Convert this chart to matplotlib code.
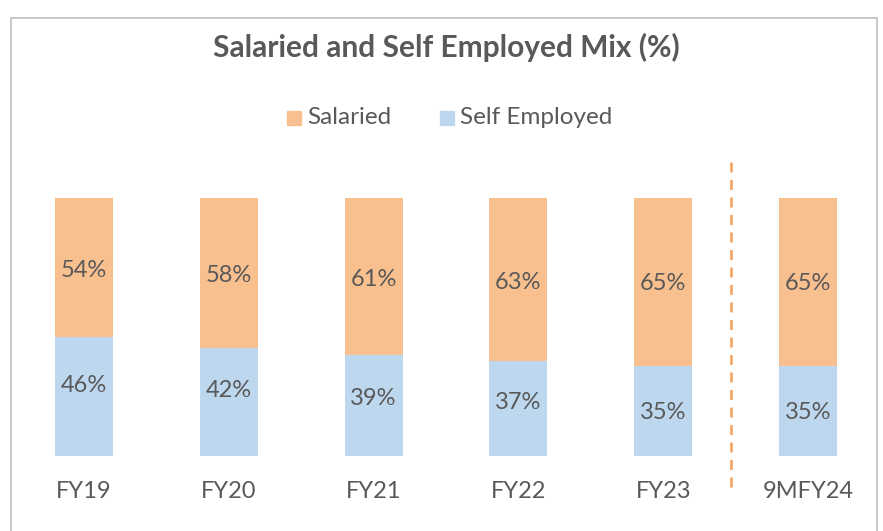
import numpy as np
import matplotlib.pyplot as plt
from matplotlib.patches import Rectangle

# Data
categories = ['FY19', 'FY20', 'FY21', 'FY22', 'FY23', '9MFY24']
salaried = [54, 58, 61, 63, 65, 65]
self_employed = [46, 42, 39, 37, 35, 35]

# label nudges in pixels (positive = up), as placed in the source chart
se_nudge = [11, 11, 7.5, 6, -2, -2]
sa_nudge = [-2.5, -2.5, -2.5, -3, -2, -2]

ORANGE = '#F9C08F'
BLUE = '#BDD7EE'
TEXT = '#595959'

plt.rcParams['font.family'] = ['Lato', 'DejaVu Sans']

W, H = 883, 531
fig = plt.figure(figsize=(W / 100, H / 100), dpi=100)

# chart border (bottom runs off the image)
fig.patches.append(Rectangle((11 / W, -0.05), 866 / W, 1.05 - 18 / H, transform=fig.transFigure,
                             fill=False, edgecolor='#BFBFBF', linewidth=1.2))

# axes placed so bars land where the reference has them
left, right = 11.5, 880.5
bottom, top = 456, 198
ax = fig.add_axes([left / W, 1 - bottom / H, (right - left) / W, (bottom - top) / H])

x = np.arange(len(categories))
se = np.array(self_employed) / 100
sa = np.array(salaried) / 100
ax.bar(x, se, width=0.4, color=BLUE)
ax.bar(x, sa, bottom=se, width=0.4, color=ORANGE)

for i in range(len(categories)):
    ax.annotate(f'{self_employed[i]}%', (x[i], se[i] / 2), xytext=(0, se_nudge[i] * 0.72),
                textcoords='offset points', ha='center', va='center', fontsize=17, color=TEXT)
    ax.annotate(f'{salaried[i]}%', (x[i], se[i] + sa[i] / 2), xytext=(0, sa_nudge[i] * 0.72),
                textcoords='offset points', ha='center', va='center', fontsize=17, color=TEXT)

# separator before the 9M column
ax.plot([4.47, 4.47], [-0.12, 1.16], color='#F4A05A', linestyle=(0, (4, 3)),
        linewidth=1.8, clip_on=False)

ax.set_xlim(-0.5, len(categories) - 0.5)
ax.set_ylim(0, 1)
ax.set_xticks(x)
ax.set_xticklabels(categories, fontsize=17, color=TEXT)
ax.tick_params(axis='x', length=0, pad=18)
ax.set_yticks([])
for s in ax.spines.values():
    s.set_visible(False)

fig.text(446 / W, 1 - 47 / H, 'Salaried and Self Employed Mix (%)', ha='center', va='center',
         fontsize=21.5, fontweight='bold', color=TEXT)

# legend
fig.patches.append(Rectangle((287 / W, 1 - 125 / H), 14 / W, 14 / H, transform=fig.transFigure,
                             color=ORANGE))
fig.text(307 / W, 1 - 118 / H, 'Salaried', ha='left', va='center', fontsize=17.5, color=TEXT)
fig.patches.append(Rectangle((440 / W, 1 - 125 / H), 14 / W, 14 / H, transform=fig.transFigure,
                             color=BLUE))
fig.text(460 / W, 1 - 118 / H, 'Self Employed', ha='left', va='center', fontsize=17.5, color=TEXT)

fig.savefig('out.png', dpi=100)
